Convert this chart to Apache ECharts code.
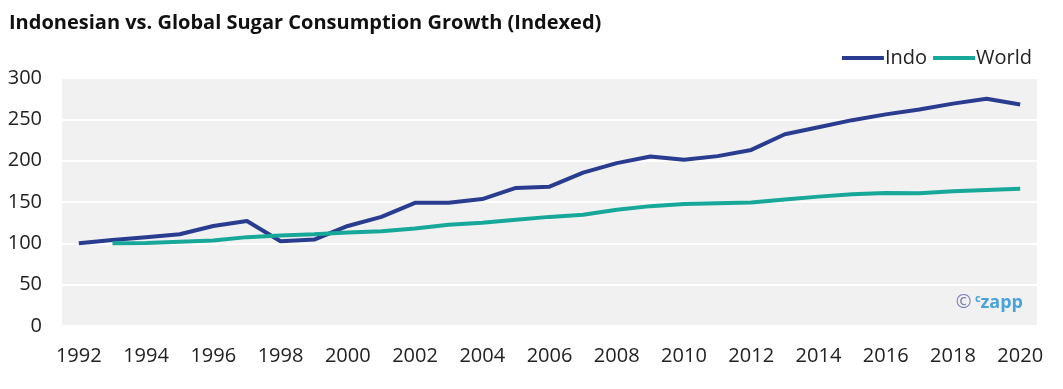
<!DOCTYPE html>
<html>
<head>
<meta charset="utf-8">
<script src="https://cdn.jsdelivr.net/npm/echarts@6/dist/echarts.min.js"></script>
<style>
html,body{margin:0;padding:0;background:#fff;}
#c{width:1063px;height:389px;}
</style>
</head>
<body>
<div id="c"></div>
<script>
const years = ['1992','1993','1994','1995','1996','1997','1998','1999','2000','2001','2002','2003','2004','2005','2006','2007','2008','2009','2010','2011','2012','2013','2014','2015','2016','2017','2018','2019','2020'];
const indo = [100,104,107.5,111,121,127,102.5,104.5,121,132,149,149,153.5,167,168.5,185.5,197,205,201,205.5,213,232,240.5,249,256,262,269,275,268];
const world = [null,100,100.5,102,103.5,107.5,109.5,111,113,114.5,118,122.5,125,128.5,132,134.5,140.5,145,147.5,148.5,149.5,153,156.5,159.5,161,160.5,163,164.5,166];
const yTicks = [0,50,100,150,200,250,300];

const chart = echarts.init(document.getElementById('c'), null, {renderer:'canvas'});
const font = '"Open Sans", "Noto Sans", sans-serif';
chart.setOption({
  animation:false,
  backgroundColor:'#ffffff',
  title:{
    text:'Indonesian vs. Global Sugar Consumption Growth (Indexed)',
    left:4, top:8,
    textStyle:{fontFamily:font, fontSize:20, fontWeight:'bold', color:'#111'}
  },
  legend:{
    right:26, top:43,
    itemWidth:42, itemHeight:4, itemGap:6,
    icon:'rect',
    textStyle:{fontFamily:font, fontSize:20, color:'#222', padding:[0,0,0,-4]},
    data:['Indo','World']
  },
  grid:{
    left:62, right:26, top:78, bottom:63,
    show:true, backgroundColor:'#f1f1f1', borderWidth:0
  },
  xAxis:{
    type:'category',
    data:years,
    boundaryGap:true,
    axisLine:{show:false},
    axisTick:{show:false},
    axisLabel:{
      interval:1,
      margin:20,
      fontFamily:font, fontSize:20, color:'#222'
    }
  },
  yAxis:{
    type:'value',
    min:yTicks[0], max:yTicks[yTicks.length-1], interval:50,
    axisLine:{show:false},
    axisTick:{show:false},
    axisLabel:{fontFamily:font, fontSize:20, color:'#222', margin:20},
    splitLine:{show:true, lineStyle:{color:'#ffffff', width:2}}
  },
  graphic:[{
    type:'text',
    right:40, top:293,
    style:{
      text:'{c|©} {s|c}{z|zapp}',
      rich:{
        c:{fontFamily:font, fontSize:19, fill:'#7b7fb3'},
        s:{fontFamily:font, fontSize:11, fontWeight:'bold', fill:'#4aa3d6', verticalAlign:'top', padding:[0,0,8,0]},
        z:{fontFamily:font, fontSize:18, fontWeight:'bold', fill:'#4aa3d6'}
      }
    }
  }],
  series:[
    {name:'Indo', type:'line', data:indo, symbol:'none', color:'#2a3c8f',
     lineStyle:{width:4, color:'#2a3c8f'}},
    {name:'World', type:'line', data:world, symbol:'none', color:'#17a89a',
     lineStyle:{width:4, color:'#17a89a'}}
  ]
});
</script>
</body>
</html>
